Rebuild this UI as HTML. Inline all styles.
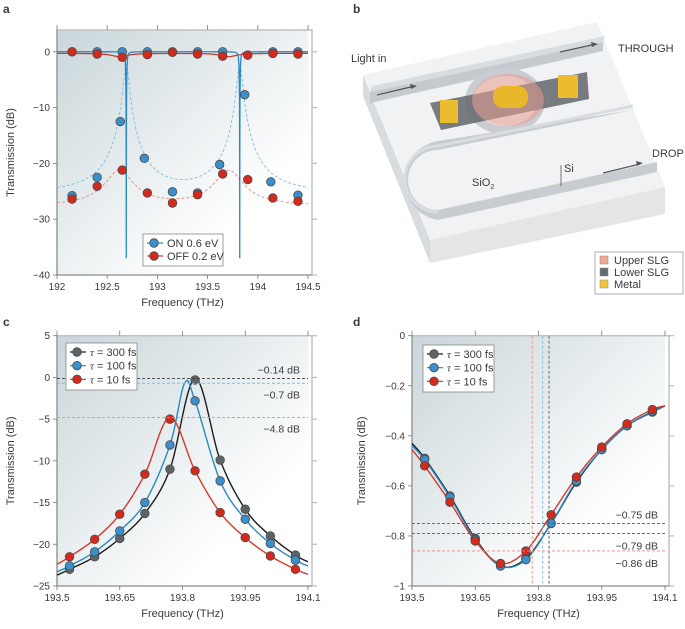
<!DOCTYPE html>
<html><head><meta charset="utf-8"><style>
body{margin:0;background:#fff;width:685px;height:624px;overflow:hidden;font-family:"Liberation Sans",sans-serif}
svg text{font-family:"Liberation Sans",sans-serif;fill:#3a3a3a}
</style></head><body>
<svg id="fig" width="685" height="624" viewBox="0 0 685 624" xmlns="http://www.w3.org/2000/svg">
<defs>
<linearGradient id="bg" x1="0" y1="0" x2="1" y2="1"><stop offset="0" stop-color="#c9d6da"/><stop offset="0.75" stop-color="#ffffff"/></linearGradient>
</defs>
<text x="3" y="13" font-weight="bold" font-size="12">a</text>
<text x="353" y="13" font-weight="bold" font-size="12">b</text>
<text x="3" y="326" font-weight="bold" font-size="12">c</text>
<text x="353" y="326" font-weight="bold" font-size="12">d</text>

<g>
<polygon points="363,75 430,240 430,263 363,96" fill="#d9dcdf"/>
<polygon points="430,240 665,187 665,214 430,263" fill="#e3e5e7"/>
<polygon points="363,75 597,22 665,187 430,240" fill="#f1f2f3"/>
<polygon points="370,92 603,42 603,51 370,103" fill="#c5cacf"/>
<polygon points="370,92 372,86 605,36 603,42" fill="#d8dcdf"/>
<ellipse cx="505" cy="101" rx="36" ry="29" fill="none" stroke="#c9cdd1" stroke-width="8"/>
<polygon points="430,103 587,72 589,99 441,130" fill="#6a6f74" opacity="0.9"/>
<ellipse cx="508" cy="100" rx="36" ry="26" fill="#e89a90" opacity="0.55"/>
<rect x="493" y="86" width="35" height="22" rx="10" fill="#e8b82a"/>
<rect x="440" y="100" width="18" height="23" fill="#ecbc30"/>
<rect x="558" y="75" width="20" height="23" fill="#ecbc30"/>
<path d="M633,110 L438,150 A30,30 0 0 0 438,210 L657,162 L657,172 L438,220 A40,40 0 0 1 438,141 Z" fill="#c8ccd0"/>
<path d="M633,106 L438,146 A33,33 0 0 0 438,212" fill="none" stroke="#dadde0" stroke-width="3"/>
<line x1="377" y1="95" x2="415" y2="86" stroke="#555" stroke-width="1.2"/><polygon points="417,86 410,84 411,89" fill="#555"/>
<line x1="560" y1="52" x2="596" y2="44" stroke="#555" stroke-width="1.2"/><polygon points="598,44 591,42 592,47" fill="#555"/>
<line x1="603" y1="173" x2="640" y2="164" stroke="#555" stroke-width="1.2"/><polygon points="643,163 636,161 637,166" fill="#555"/>
<line x1="561" y1="165" x2="561" y2="186" stroke="#555" stroke-width="0.8"/>
<text x="351" y="62" font-size="11">Light in</text>
<text x="618" y="52" font-size="11">THROUGH</text>
<text x="652" y="157" font-size="11">DROP</text>
<text x="472" y="186" font-size="11">SiO<tspan font-size="7" dy="3">2</tspan></text>
<text x="564" y="172" font-size="11">Si</text>
<g>
<rect x="595" y="252" width="88" height="42" fill="#fff" stroke="#999" stroke-width="0.8"/>
<rect x="600" y="256" width="8" height="8" fill="#f2a78f" stroke="#888" stroke-width="0.5"/><text x="614" y="264" font-size="11">Upper SLG</text>
<rect x="600" y="268" width="8" height="8" fill="#636a70" stroke="#888" stroke-width="0.5"/><text x="614" y="276" font-size="11">Lower SLG</text>
<rect x="600" y="280" width="8" height="8" fill="#f3c43a" stroke="#888" stroke-width="0.5"/><text x="614" y="288" font-size="11">Metal</text>
</g>
</g>
</svg>
<script>
// ---------- Panel a data ----------
const aOnFreqTop=[192.15,192.4,192.65,192.9,193.15,193.4,193.65,194.15,194.4];
const aOnValTop=[0,0,0,0,0,0,0,0,0];
const aOffFreqTop=[192.15,192.4,192.65,192.9,193.15,193.4,193.65,193.9,194.15,194.4];
const aOffValTop=[0,-0.4,-1,-0.5,-0.1,-0.4,-0.8,-0.6,-0.3,-0.4];
const aOnFreqDrop=[192.15,192.4,192.63,192.87,193.15,193.4,193.62,193.87,194.13,194.4];
const aOnValDrop=[-25.8,-22.5,-12.5,-19.1,-25.1,-25.3,-20.2,-7.7,-23.3,-25.7];
const aOffFreqDrop=[192.15,192.4,192.65,192.9,193.15,193.4,193.65,193.9,194.15,194.4];
const aOffValDrop=[-26.4,-24.1,-21.2,-25.3,-27.1,-25.6,-21.9,-22.9,-26.2,-26.8];
const aResonanceOn=[192.69,193.82];
const aResonanceOff=[192.62,193.71];
const aXTicks=[192,192.5,193,193.5,194,194.5];
const aYTicks=[0,-10,-20,-30,-40];
// ---------- Panel c data ----------
const cFreq=[193.53,193.59,193.65,193.71,193.77,193.83,193.89,193.95,194.01,194.07];
const c300=[-23.0,-21.5,-19.3,-16.3,-11.0,-0.3,-9.9,-15.8,-19.0,-21.3];
const c100=[-22.6,-20.9,-18.4,-15.0,-8.1,-2.8,-12.4,-17.0,-19.9,-21.9];
const c10=[-21.5,-19.4,-16.4,-11.6,-5.0,-11.2,-16.2,-19.2,-21.4,-23.0];
const cPeakFreq=[193.825,193.805,193.77];
const cPeakDb=[-0.14,-0.7,-4.8];
const cEdge300=[-23.7,-22.1];
const cEdge100=[-23.3,-22.6];
const cEdge10=[-22.4,-23.6];
const cXTicks=[193.5,193.65,193.8,193.95,194.1];
const cYTicks=[5,0,-5,-10,-15,-20,-25];
// ---------- Panel d data ----------
const dFreq=[193.53,193.59,193.65,193.71,193.77,193.83,193.89,193.95,194.01,194.07];
const d300=[-0.49,-0.64,-0.81,-0.92,-0.89,-0.75,-0.585,-0.455,-0.36,-0.305];
const d100=[-0.495,-0.645,-0.815,-0.92,-0.895,-0.75,-0.58,-0.455,-0.36,-0.302];
const d10=[-0.52,-0.665,-0.82,-0.91,-0.86,-0.715,-0.565,-0.445,-0.352,-0.295];
const dEdge300=[-0.43,-0.28];
const dEdge100=[-0.44,-0.28];
const dEdge10=[-0.455,-0.28];
const dVLines=[193.785,193.81,193.825];
const dHLines=[-0.75,-0.79,-0.86];
const dXTicks=[193.5,193.65,193.8,193.95,194.1];
const dYTicks=[0,-0.2,-0.4,-0.6,-0.8,-1];

const NS='http://www.w3.org/2000/svg';
const svg=document.getElementById('fig');
function mk(tag,attrs,parent){const e=document.createElementNS(NS,tag);for(const k in attrs)e.setAttribute(k,attrs[k]);(parent||svg).appendChild(e);return e;}
function txt(s,attrs,parent){const e=mk('text',attrs,parent);e.textContent=s;return e;}
const BLUE='#3b8fca',RED='#d42a1c',GREY='#5e6367';
const LBLUE='#2a88c6',LRED='#d8382a',LBLACK='#1c1c1c';

function panel(name,px0,px1,py0,py1,xmin,xmax,ymin,ymax,xt,yt,fmtX,fmtY,titleX){
  const g=mk('g',{});
  
  
  const sx=v=>px0+(v-xmin)/(xmax-xmin)*(px1-px0);
  const sy=v=>py1-(v-ymin)/(ymax-ymin)*(py1-py0);
  const bg=mk('rect',{x:px0,y:py0,width:px1-px0,height:py1-py0,fill:'url(#bg)'},g);
  
  
  mk('rect',{x:px0,y:py0,width:px1-px0+4,height:py1-py0,fill:'none',stroke:'#bfc3c6','stroke-width':1.5},g);
  const xa=mk('g',{},g);
  
  
  xt.forEach(v=>{const x=sx(v);
    mk('line',{x1:x,x2:x,y1:py1,y2:py1+4,stroke:'#777','stroke-width':0.8},xa);
    mk('line',{x1:x,x2:x,y1:py0-5,y2:py0,stroke:'#777','stroke-width':0.8},xa);
    txt(fmtX(v),{x:x,y:py1+15,'font-size':10,'text-anchor':'middle'},xa);});
  const ya=mk('g',{},g);
  
  
  yt.forEach(v=>{const y=sy(v);
    mk('line',{x1:px0-4,x2:px0,y1:y,y2:y,stroke:'#777','stroke-width':0.8},ya);
    mk('line',{x1:px1+4,x2:px1+9,y1:y,y2:y,stroke:'#bbb','stroke-width':1.2},ya);
    txt(fmtY(v),{x:px0-7,y:y+3.5,'font-size':10,'text-anchor':'end'},ya);});
  mk('line',{x1:px0,x2:px0,y1:py0,y2:py1,stroke:'#777','stroke-width':0.8},g);
  mk('line',{x1:px0,x2:px1+4,y1:py1,y2:py1,stroke:'#777','stroke-width':0.8},g);
  const xt2=txt('Frequency (THz)',{x:(px0+px1)/2,y:py1+31,'font-size':11,'text-anchor':'middle'},g);
  
  
  const yx=titleX, yy=(py0+py1)/2;
  const ytt=txt('Transmission (dB)',{x:yx,y:yy,'font-size':11,'text-anchor':'middle',transform:`rotate(-90 ${yx} ${yy})`},g);
  
  
  const clip='clip-'+name;
  const cp=mk('clipPath',{id:clip},g);mk('rect',{x:px0,y:py0,width:px1-px0,height:py1-py0+1},cp);
  const plot=mk('g',{'clip-path':`url(#${clip})`},g);
  return {g,plot,sx,sy};
}
const minus=s=>String(s).replace('-','\u2212');
function path(pts,sx,sy){return pts.map((p,i)=>(i?'L':'M')+sx(p[0]).toFixed(2)+','+sy(p[1]).toFixed(2)).join('');}
function sample(f,a,b,n){const r=[];for(let i=0;i<=n;i++){const x=a+(b-a)*i/n;r.push([x,f(x)]);}return r;}
function dots(parent,fs,vs,sx,sy,fill,name){
  fs.forEach((f,i)=>{const c=mk('circle',{cx:sx(f),cy:sy(vs[i]),r:4.3,fill:fill,stroke:'#4a4a4a','stroke-width':0.8},parent);
    
    });
}
function line(parent,pts,P,color,w,dash,name){
  const e=mk('path',{d:path(pts,P.sx,P.sy),fill:'none',stroke:color,'stroke-width':w},parent);
  if(dash)e.setAttribute('stroke-dasharray',dash);
  
  
  return e;
}
function legend(x,y,w,h,items,name){
  const g=mk('g',{});
  
  
  mk('rect',{x:x,y:y,width:w,height:h,fill:'#fff',stroke:'#888','stroke-width':0.8},g);
  items.forEach((it,i)=>{const yy=y+9+i*(h-6)/items.length;
    const e=mk('g',{},g);
    
    
    mk('line',{x1:x+4,x2:x+20,y1:yy,y2:yy,stroke:it[2],'stroke-width':1.2},e);
    mk('circle',{cx:x+11,cy:yy,r:4.3,fill:it[1],stroke:'#4a4a4a','stroke-width':0.8},e);
    const t=txt('',{x:x+24,y:yy+4,'font-size':11},e);t.innerHTML=it[0];});
}
function spline(xs,ys,n){const out=[];for(let i=0;i<xs.length-1;i++){
  const p0=[xs[Math.max(i-1,0)],ys[Math.max(i-1,0)]],p1=[xs[i],ys[i]],p2=[xs[i+1],ys[i+1]],p3=[xs[Math.min(i+2,xs.length-1)],ys[Math.min(i+2,xs.length-1)]];
  for(let k=0;k<n;k++){const t=k/n,t2=t*t,t3=t2*t;
    const c=(a,b,c2,d)=>0.5*(2*b+(-a+c2)*t+(2*a-5*b+4*c2-d)*t2+(-a+3*b-3*c2+d)*t3);
    out.push([c(p0[0],p1[0],p2[0],p3[0]),c(p0[1],p1[1],p2[1],p3[1])]);}}
  out.push([xs[xs.length-1],ys[ys.length-1]]);return out;}

// ---------- Panel a ----------
const A=panel('panel-a',57,308,30,275,192,194.5,-40,3.9,aXTicks,aYTicks,v=>String(v),minus,14);
const onThrough=f=>{let t=1;aResonanceOn.forEach(r=>{t*=1-0.9998/(1+((f-r)/0.007)**2);});return 10*Math.log10(Math.max(t,2e-4));};
const offThrough=f=>{let t=0.94;aResonanceOff.forEach(r=>{t*=1-0.13/(1+((f-r)/0.1)**2);});return 10*Math.log10(t);};
const onDrop=f=>{let t=0.0028;aResonanceOn.forEach(r=>{t+=0.6/(1+((f-r)/0.025)**2);});return 10*Math.log10(t);};
const offDrop=f=>{let t=0.0017;aResonanceOff.forEach(r=>{t+=0.0058/(1+((f-r)/0.13)**2);});return 10*Math.log10(t);};
line(A.plot,sample(onDrop,192,194.5,800),A,'#7fbde0',0.9,'3,2','on-drop-fit');
line(A.plot,sample(offDrop,192,194.5,400),A,'#ee8a80',0.9,'3,2','off-drop-fit');
line(A.plot,sample(offThrough,192,194.5,400),A,LRED,1.3,null,'off-through-fit');
line(A.plot,sample(onThrough,192,194.5,3000),A,LBLUE,1.3,null,'on-through-fit');
dots(A.plot,aOnFreqDrop,aOnValDrop,A.sx,A.sy,BLUE,'on-drop-point');
dots(A.plot,aOffFreqDrop,aOffValDrop,A.sx,A.sy,RED,'off-drop-point');
dots(A.plot,aOnFreqTop,aOnValTop,A.sx,A.sy,BLUE,'on-through-point');
dots(A.plot,aOffFreqTop,aOffValTop,A.sx,A.sy,RED,'off-through-point');
legend(143,234,80,32,[['ON 0.6 eV',BLUE,LBLUE],['OFF 0.2 eV',RED,LRED]],'legend-a');

// ---------- Panel c ----------
const C=panel('panel-c',57,308,335.7,586,193.5,194.1,-25,5,cXTicks,cYTicks,v=>String(v),minus,14);
const cCols=['#3c3f42','#7fbde0','#ee8a80'];
cPeakDb.forEach((v,i)=>{const y=C.sy(v);
  const l=mk('line',{x1:57,x2:308,y1:y,y2:y,stroke:cCols[i],'stroke-width':0.9,'stroke-dasharray':'3,2'},C.g);
  
  });
txt('\u22120.14 dB',{x:300,y:C.sy(cPeakDb[0])-5,'font-size':10.5,'text-anchor':'end'},C.g);
txt('\u22120.7 dB',{x:300,y:C.sy(cPeakDb[1])+15,'font-size':10.5,'text-anchor':'end'},C.g);
txt('\u22124.8 dB',{x:300,y:C.sy(cPeakDb[2])+15,'font-size':10.5,'text-anchor':'end'},C.g);
const cSeries=[[c300,cEdge300,GREY,LBLACK,'tau-300fs'],[c100,cEdge100,BLUE,LBLUE,'tau-100fs'],[c10,cEdge10,RED,LRED,'tau-10fs']];
cSeries.forEach((s,i)=>{
  const pts=cFreq.map((f,j)=>[f,s[0][j]]);
  if(!cFreq.some(f=>Math.abs(f-cPeakFreq[i])<0.008))pts.push([cPeakFreq[i],cPeakDb[i]]);
  else pts.forEach(p=>{if(Math.abs(p[0]-cPeakFreq[i])<0.008)p[1]=Math.max(p[1],cPeakDb[i]);});
  pts.push([193.5,s[1][0]],[194.1,s[1][1]]);
  pts.sort((a,b)=>a[0]-b[0]);
  line(C.plot,spline(pts.map(p=>p[0]),pts.map(p=>p[1]),20),C,s[3],1.4,null,s[4]+'-fit');
});
cSeries.forEach(s=>dots(C.plot,cFreq,s[0],C.sx,C.sy,s[2],s[4]+'-point'));
legend(66,343,71,47,[['<tspan font-style="italic" font-family="Liberation Serif">τ</tspan> = 300 fs',GREY,LBLACK],['<tspan font-style="italic" font-family="Liberation Serif">τ</tspan> = 100 fs',BLUE,LBLUE],['<tspan font-style="italic" font-family="Liberation Serif">τ</tspan> = 10 fs',RED,LRED]],'legend-c');

// ---------- Panel d ----------
const D=panel('panel-d',412,665,335.7,586,193.5,194.1,-1,0,dXTicks,dYTicks,v=>String(v),v=>minus(v),365);
const dvCols=['#ee8a80','#7fbde0','#5a5d60'];
dVLines.forEach((v,i)=>{const x=D.sx(v);
  const l=mk('line',{x1:x,x2:x,y1:335.7,y2:586,stroke:dvCols[i],'stroke-width':0.9,'stroke-dasharray':'3,2'},D.g);
  
  });
const dhCols=['#5a5d60','#5a5d60','#ee8a80'];
dHLines.forEach((v,i)=>{const y=D.sy(v);
  const l=mk('line',{x1:412,x2:665,y1:y,y2:y,stroke:dhCols[i],'stroke-width':0.9,'stroke-dasharray':'3,2'},D.g);
  
  });
txt('\u22120.75 dB',{x:658,y:D.sy(dHLines[0])-5,'font-size':10.5,'text-anchor':'end'},D.g);
txt('\u22120.79 dB',{x:658,y:D.sy(dHLines[1])+16,'font-size':10.5,'text-anchor':'end'},D.g);
txt('\u22120.86 dB',{x:658,y:D.sy(dHLines[2])+16,'font-size':10.5,'text-anchor':'end'},D.g);
const dSeries=[[d300,dEdge300,GREY,LBLACK,'tau-300fs'],[d100,dEdge100,BLUE,LBLUE,'tau-100fs'],[d10,dEdge10,RED,LRED,'tau-10fs']];
dSeries.forEach(s=>{
  const xs=[193.5].concat(dFreq,[194.1]),ys=[s[1][0]].concat(s[0],[s[1][1]]);
  line(D.plot,spline(xs,ys,20),D,s[3],1.4,null,s[4]+'-fit-d');
});
dSeries.forEach(s=>dots(D.plot,dFreq,s[0],D.sx,D.sy,s[2],s[4]+'-point-d'));
legend(423,345,71,47,[['<tspan font-style="italic" font-family="Liberation Serif">τ</tspan> = 300 fs',GREY,LBLACK],['<tspan font-style="italic" font-family="Liberation Serif">τ</tspan> = 100 fs',BLUE,LBLUE],['<tspan font-style="italic" font-family="Liberation Serif">τ</tspan> = 10 fs',RED,LRED]],'legend-d');
</script>
</body></html>
